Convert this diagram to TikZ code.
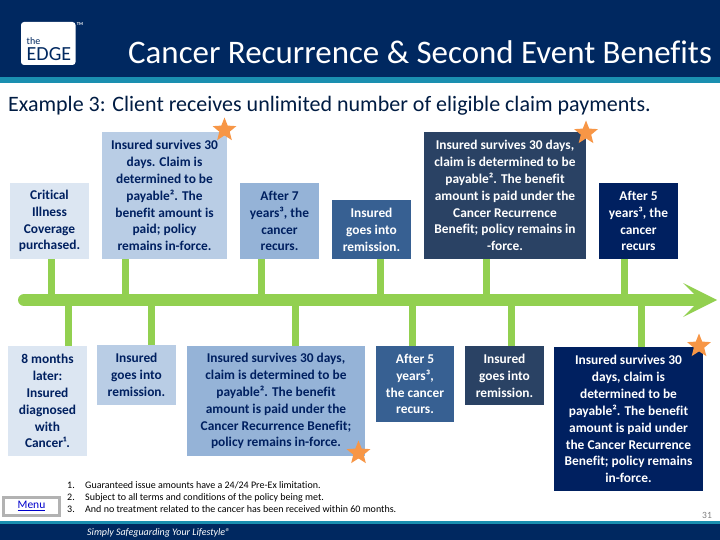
\documentclass[tikz,border=0pt]{standalone}
\usepackage{fontspec}
\setmainfont[Ligatures=CommonOff]{Carlito}
\usetikzlibrary{shapes.geometric}
\definecolor{navy}{HTML}{002860}
\definecolor{teal2}{HTML}{1A8FB0}
\definecolor{grn}{HTML}{92D050}
\definecolor{orng}{HTML}{F79646}
\definecolor{txtn}{HTML}{002060}
\definecolor{cA}{HTML}{DCE6F2}
\definecolor{cB}{HTML}{B9CDE5}
\definecolor{cC}{HTML}{95B3D7}
\definecolor{cD}{HTML}{376092}
\definecolor{cE}{HTML}{2A4264}
\definecolor{cF}{HTML}{002060}
\tikzset{
  x=1pt,y=-1pt,
  boxt/.style={inner sep=0pt,align=center,font=\fontsize{13.4}{16.9}\selectfont\bfseries},
  lightb/.style={boxt,text=txtn},
  darkb/.style={boxt,text=white},
  stem/.style={draw=grn,line width=7pt},
  spineline/.style={draw=grn,line width=12pt,line cap=round},
  starmark/.style={star,star points=5,star point ratio=2.3,fill=orng,inner sep=0pt,minimum size=25pt},
  note/.style={inner sep=0pt,anchor=base west,text=black,font=\fontsize{10}{12}\selectfont}
}
\newcommand{\bx}[7]{%
  \fill[#6] (#2,#3) rectangle (#4,#5);
  \node[#7] (#1) at ({(#2+#4)/2},{(#3+#5)/2}) [minimum width={#4-#2},minimum height={#5-#3}]}
\begin{document}
\begin{tikzpicture}
\useasboundingbox (0,0) rectangle (720,540);
\fill[white] (0,0) rectangle (720,540);
% header
\fill[navy] (0,0) rectangle (720,77);
\fill[teal2] (0,77) rectangle (720,83);
\node[inner sep=0pt,text=white,font=\fontsize{32.9}{36}\selectfont,anchor=base west] (title) at (128,64) {Cancer Recurrence \& Second Event Benefits};
% logo
\fill[white,rounded corners=3pt] (21,22) rectangle (75.5,65);
\node[inner sep=0pt,text=navy,font=\fontsize{10}{12}\selectfont,anchor=base west] (the) at (26.5,45) {the};
\node[inner sep=0pt,text=navy,font=\fontsize{20}{22}\selectfont,anchor=base west] (edge) at (26.5,61) {EDGE};
\node[inner sep=0pt,text=white,font=\fontsize{4.5}{5}\selectfont\bfseries] (tm) at (80,24) {TM};
% subtitle
\node[inner sep=0pt,text=navy!70!black,font=\fontsize{22}{24}\selectfont,anchor=base west] (sub) at (8,112) {Example 3: Client receives unlimited number of eligible claim payments.};
% boxes top
\bx{t1}{10}{183}{89}{259}{cA}{lightb}{Critical\\Illness\\Coverage\\purchased.};
\bx{t2}{102}{132}{227}{259}{cB}{lightb}{Insured survives 30\\days. Claim is\\determined to be\\payable². The\\benefit amount is\\paid; policy\\remains in-force.};
\bx{t3}{240}{183}{319}{259}{cC}{lightb}{After 7\\years³, the\\cancer\\recurs.};
\bx{t4}{332}{200}{411}{259}{cD}{darkb}{Insured\\goes into\\remission.};
\bx{t5}{424}{132}{586}{259}{cE}{darkb}{Insured survives 30 days,\\claim is determined to be\\payable². The benefit\\amount is paid under the\\Cancer Recurrence\\Benefit; policy remains in\\-force.};
\bx{t6}{599}{183}{678}{259}{cF}{darkb}{After 5\\years³, the\\cancer\\recurs};
% boxes bottom
\bx{b1}{8}{346}{87}{456}{cA}{lightb}{8 months\\later:\\Insured\\diagnosed\\with\\Cancer¹.};
\bx{b2}{97}{345}{176}{405}{cB}{lightb}{Insured\\goes into\\remission.};
\bx{b3}{187}{346}{365}{456}{cC}{lightb}{Insured survives 30 days,\\claim is determined to be\\payable². The benefit\\amount is paid under the\\Cancer Recurrence Benefit;\\policy remains in-force.};
\bx{b4}{376}{346}{454}{422}{cD}{darkb}{After 5\\years³,\\the cancer\\recurs.};
\bx{b5}{465}{346}{544}{405}{cE}{darkb}{Insured\\goes into\\remission.};
\bx{b6}{554}{347}{703}{491}{cF}{darkb}{Insured survives 30\\days, claim is\\determined to be\\payable². The benefit\\amount is paid under\\the Cancer Recurrence\\Benefit; policy remains\\in-force.};
% spine
\coordinate (spineL) at (24,300);
\coordinate (spineR) at (695,300);
\foreach \n/\x in {s1/51.5,s2/125.5,s3/261.5,s4/380.5,s5/486.5,s6/624.5,u1/68.5,u2/151.5,u3/295.5,u4/412.5,u5/511.5,u6/641.5}
  \coordinate (\n) at (\x,300);
\draw[stem] (s1) -- (s1 |- t1.south);
\draw[stem] (s2) -- (s2 |- t2.south);
\draw[stem] (s3) -- (s3 |- t3.south);
\draw[stem] (s4) -- (s4 |- t4.south);
\draw[stem] (s5) -- (s5 |- t5.south);
\draw[stem] (s6) -- (s6 |- t6.south);
\draw[stem] (u1) -- (u1 |- b1.north);
\draw[stem] (u2) -- (u2 |- b2.north);
\draw[stem] (u3) -- (u3 |- b3.north);
\draw[stem] (u4) -- (u4 |- b4.north);
\draw[stem] (u5) -- (u5 |- b5.north);
\draw[stem] (u6) -- (u6 |- b6.north);
\draw[spineline] (spineL) -- (spineR);
\fill[grn] (683,283) -- (717,300) -- (683,317) -- (694,306) -- (694,294) -- cycle;
% stars
\node[starmark] (st1) at (224.5,130) {};
\node[starmark] (st2) at (586,133) {};
\node[starmark] (st3) at (358.5,453) {};
\node[starmark] (st4) at (699,346) {};
% footnotes
\foreach \n/\y/\t in {1/488/{Guaranteed issue amounts have a 24/24 Pre-Ex limitation.},2/500/{Subject to all terms and conditions of the policy being met.},3/512/{And no treatment related to the cancer has been received within 60 months.}}{
  \node[note] (num\n) at (67,\y) {\n.};
  \node[note] (fn\n) at (85,\y) {\t};
}
% menu
\node[draw=black!30,line width=3pt,fill=white,minimum width=56pt,minimum height=18pt,inner sep=0pt,text=blue!80!black,font=\fontsize{11.5}{12}\selectfont] (menu) at (31.5,506) {\underline{Menu}};
% footer
\fill[navy] (0,521) rectangle (720,540);
\fill[teal2] (0,521) rectangle (720,524);
\node[inner sep=0pt,text=white,font=\fontsize{10}{12}\selectfont\itshape,anchor=base west] (tag) at (87,535) {Simply Safeguarding Your Lifestyle®};
\node[inner sep=0pt,text=black!50,font=\fontsize{9.5}{10}\selectfont] (pg) at (707,515) {31};
\end{tikzpicture}
\end{document}
